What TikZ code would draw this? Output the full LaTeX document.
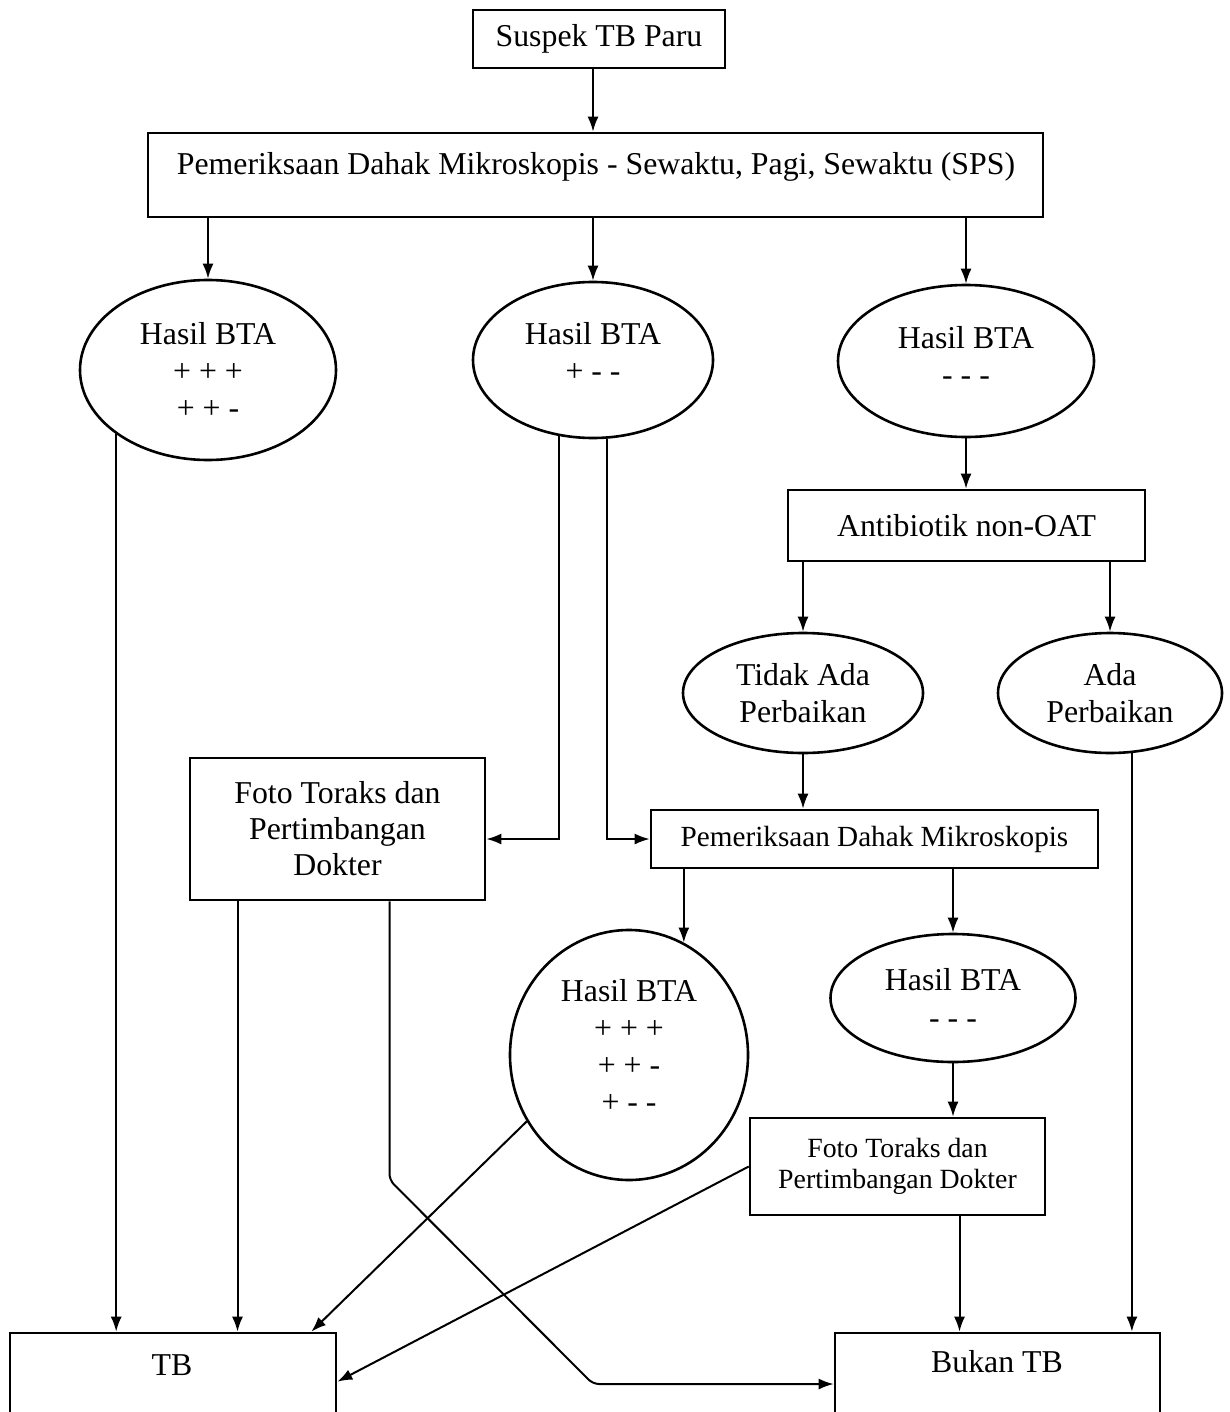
\documentclass[tikz,border=0pt]{standalone}
\usepackage{fontspec}
\setmainfont{Liberation Serif}
\usetikzlibrary{arrows.meta,shapes.geometric,calc}
\begin{document}
\begin{tikzpicture}[x=0.5pt,y=-0.5pt,
  box/.style={draw, line width=1.3pt, rectangle, inner sep=0pt, align=center, font=\fontsize{15.9pt}{18.5pt}\selectfont},
  ell/.style={draw, line width=1.3pt, ellipse, inner sep=0pt, align=center, font=\fontsize{15.9pt}{18.5pt}\selectfont},
  txt/.style={align=center, inner sep=0pt, font=\fontsize{15.9pt}{18.5pt}\selectfont},
  arr/.style={line width=1pt, -{Latex[length=7.5pt,width=5.5pt]}}]
\useasboundingbox (0,0) rectangle (1230,1412);
\fill[white] (0,0) rectangle (1230,1412);
\clip (0,0) rectangle (1230,1412);

\node[box, minimum width=126pt, minimum height=29pt] (suspek) at (599,39) {Suspek TB Paru};
\node[box, minimum width=447.5pt, minimum height=42pt] (sps) at (595.5,175) {};
\node[txt] (t-sps) at (596,167) {Pemeriksaan Dahak Mikroskopis - Sewaktu, Pagi, Sewaktu (SPS)};
\node[ell, minimum width=128pt, minimum height=90pt] (e1) at (208,370) {Hasil BTA\\+ + +\\+ + -};
\node[ell, minimum width=120pt, minimum height=78pt] (e2) at (593,360) {};
\node[txt] (t-e2) at (593,352) {Hasil BTA\\+ - -};
\node[ell, minimum width=128pt, minimum height=76pt] (e3) at (966,361) {};
\node[txt] (t-e3) at (966,356) {Hasil BTA\\- - -};
\node[box, minimum width=178.5pt, minimum height=35.5pt] (anti) at (966.5,525.5) {Antibiotik non-OAT};
\node[ell, minimum width=120pt, minimum height=60pt] (tidak) at (803,693) {Tidak Ada\\Perbaikan};
\node[ell, minimum width=112pt, minimum height=60pt] (ada) at (1110,693) {Ada\\Perbaikan};
\node[box, minimum width=147.5pt, minimum height=71pt, font=\fontsize{15.9pt}{18pt}\selectfont] (foto1) at (337.5,829) {Foto Toraks dan\\Pertimbangan\\Dokter};
\node[box, minimum width=223.5pt, minimum height=29pt, font=\fontsize{14.6pt}{17pt}\selectfont] (pdm) at (874.5,839) {Pemeriksaan Dahak Mikroskopis};
\node[ell, minimum width=119pt, minimum height=125pt] (e4) at (629,1055) {};
\node[txt] (t-e4) at (629,1046) {Hasil BTA\\+ + +\\+ + -\\+ - -};
\node[ell, minimum width=122.5pt, minimum height=64pt, font=\fontsize{15.9pt}{19pt}\selectfont] (e5) at (953,998) {Hasil BTA\\- - -};
\node[box, minimum width=147.5pt, minimum height=48.5pt, font=\fontsize{13.9pt}{15.5pt}\selectfont] (foto2) at (897.5,1166.5) {Foto Toraks dan\\Pertimbangan Dokter};
\node[box, minimum width=163pt, minimum height=58.5pt] (tb) at (173,1391.5) {};
\node[txt] (t-tb) at (172,1365) {TB};
\node[box, minimum width=162.5pt, minimum height=58.5pt] (bukan) at (997.5,1391.5) {};
\node[txt] (t-bukan) at (997,1362) {Bukan TB};

\coordinate (k0) at ([xshift=26pt]foto1.south);
\coordinate (k1) at (k0 |- 0,1180);
\coordinate (k2) at (593,1384);

\draw[arr] (suspek.south -| e2.north) -- (sps.north -| e2.north);
\draw[arr] (sps.south -| e1.north) -- (e1.north);
\draw[arr] (sps.south -| e2.north) -- (e2.north);
\draw[arr] (sps.south -| e3.north) -- (e3.north);
\draw[arr] (e3.south) -- (e3.south |- anti.north);
\draw[arr] (anti.south -| tidak.north) -- (tidak.north);
\draw[arr] (anti.south -| ada.north) -- (ada.north);
\draw[arr] (tidak.south) -- (tidak.south |- pdm.north);
\draw[arr] (ada.290) -- (ada.290 |- bukan.north);
\draw[arr] (e2.246) |- (foto1.east |- pdm.west);
\draw[arr] (e2.280) |- (pdm.west);
\draw[arr] (pdm.south -| e4.64) -- (e4.64);
\draw[arr] (pdm.south -| e5.north) -- (e5.north);
\draw[arr] (e5.south) -- (e5.south |- foto2.north);
\draw[arr] ([xshift=31pt]foto2.south) -- ([xshift=31pt]foto2.south |- bukan.north);
\draw[arr] (foto2.west) -- ([yshift=-25pt]tb.north east);
\draw[arr] (e4.213) -- ([xshift=-13pt]tb.north east);
\draw[arr] ([xshift=-50pt]foto1.south) -- ([xshift=-50pt]foto1.south |- tb.north);
\draw[arr, rounded corners=3pt] (k0) -- (k1) -- (k2) -- (k2 -| bukan.west);
\draw[arr] (e1.215) -- (e1.215 |- tb.north);
\end{tikzpicture}
\end{document}
